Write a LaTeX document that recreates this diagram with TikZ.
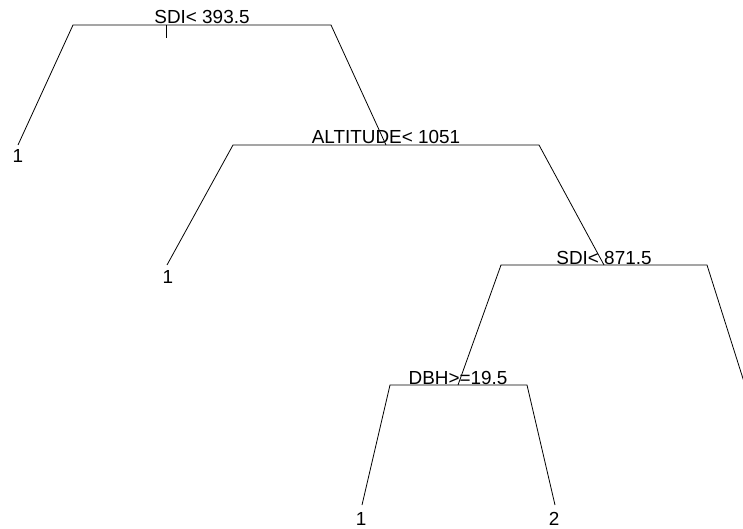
\documentclass[tikz,border=0pt]{standalone}
\usepackage{fontspec}
\setmainfont{Liberation Sans}
\tikzset{
  split/.style={anchor=base, inner sep=0pt},
  leaf/.style={anchor=base, inner sep=0pt},
  branch/.style={line width=0.8pt}
}
\begin{document}
\begin{tikzpicture}[x=1pt, y=-1pt, font=\fontsize{18.9}{20}\selectfont]
    \useasboundingbox (0,0) rectangle (743,529);
    \clip (0,0) rectangle (743,529);
    % split points and leaves
    \coordinate (sdiA) at (202,25);
    \coordinate (alt) at (386,145);
    \coordinate (sdiB) at (604,265);
    \coordinate (dbh) at (458,385);
    \coordinate (leafA) at (18,145);
    \coordinate (leafB) at (167,265);
    \coordinate (leafC) at (362,505);
    \coordinate (leafD) at (555,505);
    \coordinate (leafE) at (745,385);
    % bar ends
    \coordinate (sdiAl) at (73,25);   \coordinate (sdiAr) at (331,25);
    \coordinate (altl) at (233,145);  \coordinate (altr) at (539,145);
    \coordinate (sdiBl) at (501,265); \coordinate (sdiBr) at (707,265);
    \coordinate (dbhl) at (390,385);  \coordinate (dbhr) at (527,385);
    % branches
    \draw[branch] (leafA) -- (sdiAl) -- (sdiAr) -- (alt);
    \draw[branch] (leafB) -- (altl) -- (altr) -- (sdiB);
    \draw[branch] (dbh) -- (sdiBl) -- (sdiBr) -- (leafE);
    \draw[branch] (leafC) -- (dbhl) -- (dbhr) -- (leafD);
    % root mark
    \coordinate (mark) at (166,25);
    \draw[branch] (mark) -- ++(0,13);
    % labels
    \node[split] (tsdiA) at (202,24) {SDI< 393.5};
    \node[split] (talt) at (386,144) {ALTITUDE< 1051};
    \node[split] (tsdiB) at (604,264) {SDI< 871.5};
    \node[split] (tdbh) at (458,384) {DBH>=19.5};
    \node[leaf] (tleafA) at (18,163) {1};
    \node[leaf] (tleafB) at (168,283) {1};
    \node[leaf] (tleafC) at (361,525) {1};
    \node[leaf] (tleafD) at (554,525) {2};
\end{tikzpicture}
\end{document}
